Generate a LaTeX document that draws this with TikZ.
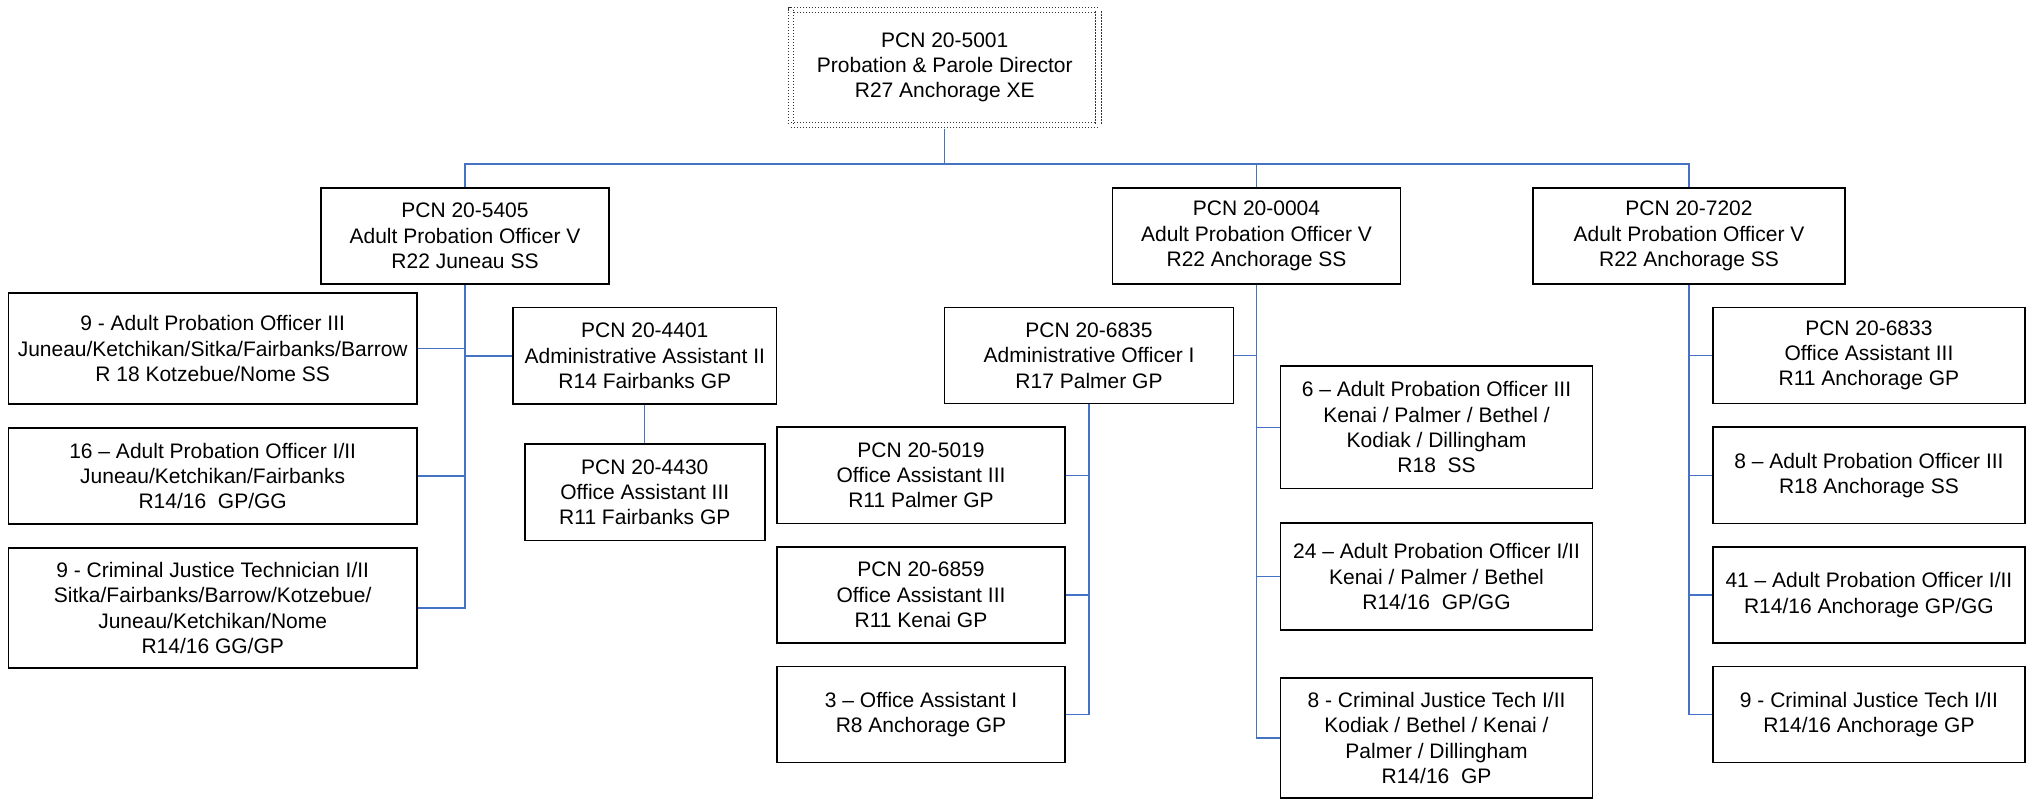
\documentclass[tikz,border=0pt]{standalone}
\usepackage{fontspec}
\setmainfont{Liberation Sans}
\definecolor{conn}{HTML}{4472C4}
\begin{document}
\begin{tikzpicture}[x=1pt,y=-1pt,
  box/.style={draw=black, line width=1.5pt, fill=white, align=center, inner sep=0pt,
    font=\fontsize{21}{25.3}\selectfont},
  dirbox/.style={draw=black!80, line width=1.2pt, dash pattern=on 1.2pt off 1.8pt, double=white,
    double distance=4.1pt, fill=white, align=center, inner sep=0pt,
    font=\fontsize{21}{25.3}\selectfont},
  link/.style={draw=conn, line width=1.3pt}]
\useasboundingbox (0,0) rectangle (2026,801);

% director
\node[dirbox, minimum width=307.5, minimum height=115] (dir) at (944.75,67.5)
  {PCN 20-5001\\Probation \& Parole Director\\R27 Anchorage XE};

% level 2
\node[box, minimum width=288, minimum height=96] (L) at (465,236)
  {PCN 20-5405\\Adult Probation Officer V\\R22 Juneau SS};
\node[box, minimum width=288, minimum height=96] (C) at (1256.5,236)
  {PCN 20-0004\\Adult Probation Officer V\\R22 Anchorage SS};
\node[box, minimum width=312, minimum height=96] (R) at (1689,236)
  {PCN 20-7202\\Adult Probation Officer V\\R22 Anchorage SS};

% left column
\node[box, minimum width=408.6, minimum height=111] (A1) at (212.7,348.5)
  {9 - Adult Probation Officer III\\Juneau/Ketchikan/Sitka/Fairbanks/Barrow\\R 18 Kotzebue/Nome SS};
\node[box, minimum width=408.6, minimum height=96] (A2) at (212.7,476)
  {16 – Adult Probation Officer I/II\\Juneau/Ketchikan/Fairbanks\\R14/16\ \ GP/GG};
\node[box, minimum width=408.6, minimum height=120] (A3) at (212.7,608)
  {9 - Criminal Justice Technician I/II\\Sitka/Fairbanks/Barrow/Kotzebue/\\Juneau/Ketchikan/Nome\\R14/16 GG/GP};
\node[box, minimum width=263.6, minimum height=96.3] (AA) at (644.8,355.85)
  {PCN 20-4401\\Administrative Assistant II\\R14 Fairbanks GP};
\node[box, minimum width=240, minimum height=96.7] (OA1) at (644.8,492.35)
  {PCN 20-4430\\Office Assistant III\\R11 Fairbanks GP};

% middle
\node[box, minimum width=289, minimum height=96] (AO) at (1089,355.6)
  {PCN 20-6835\\Administrative Officer I\\R17 Palmer GP};
\node[box, minimum width=288, minimum height=96.6] (B1) at (921,475.3)
  {PCN 20-5019\\Office Assistant III\\R11 Palmer GP};
\node[box, minimum width=288, minimum height=96] (B2) at (921,595)
  {PCN 20-6859\\Office Assistant III\\R11 Kenai GP};
\node[box, minimum width=288, minimum height=96] (B3) at (921,714.5)
  {3 – Office Assistant I\\R8 Anchorage GP};
\node[box, minimum width=311.7, minimum height=122.7] (C1) at (1436.5,427.3)
  {6 – Adult Probation Officer III\\Kenai / Palmer / Bethel /\\Kodiak / Dillingham\\R18\ \ SS};
\node[box, minimum width=311.7, minimum height=107.3] (C2) at (1436.5,576.5)
  {24 – Adult Probation Officer I/II\\Kenai / Palmer / Bethel\\R14/16\ \ GP/GG};
\node[box, minimum width=311.7, minimum height=120] (C3) at (1436.5,738)
  {8 - Criminal Justice Tech I/II\\Kodiak / Bethel / Kenai /\\Palmer / Dillingham\\R14/16\ \ GP};

% right column
\node[box, minimum width=312.3, minimum height=96] (D1) at (1868.9,355.5)
  {PCN 20-6833\\Office Assistant III\\R11 Anchorage GP};
\node[box, minimum width=312.3, minimum height=96.6] (D2) at (1868.9,475.3)
  {8 – Adult Probation Officer III\\R18 Anchorage SS};
\node[box, minimum width=312.3, minimum height=96] (D3) at (1868.9,595)
  {41 – Adult Probation Officer I/II\\R14/16 Anchorage GP/GG};
\node[box, minimum width=312.3, minimum height=96] (D4) at (1868.9,714.5)
  {9 - Criminal Justice Tech I/II\\R14/16 Anchorage GP};

% connectors
\coordinate (busy) at (0,164);
\coordinate (dirb) at ([yshift=-3pt]dir.south);
\draw[link] (dirb) -- (dirb |- busy);
\draw[link] (L.north) -- (L.north |- busy) -- (R.north |- busy) -- (R.north);
\draw[link] (C.north) -- (C.north |- busy);

\draw[link] (L.south) -- (L.south |- A3.east) -- (A3.east);
\draw[link] (A1.east) -- (A1.east -| L.south);
\draw[link] (A2.east) -- (A2.east -| L.south);
\draw[link] (AA.west) -- (AA.west -| L.south);
\draw[link] (AA.south) -- (OA1.north);

\draw[link] (C.south) -- (C.south |- C3.west) -- (C3.west);
\draw[link] (AO.east) -- (AO.east -| C.south);
\draw[link] (C1.west) -- (C1.west -| C.south);
\draw[link] (C2.west) -- (C2.west -| C.south);

\draw[link] (AO.south) -- (AO.south |- B3.east) -- (B3.east);
\draw[link] (B1.east) -- (B1.east -| AO.south);
\draw[link] (B2.east) -- (B2.east -| AO.south);

\draw[link] (R.south) -- (R.south |- D4.west) -- (D4.west);
\draw[link] (D1.west) -- (D1.west -| R.south);
\draw[link] (D2.west) -- (D2.west -| R.south);
\draw[link] (D3.west) -- (D3.west -| R.south);
\end{tikzpicture}
\end{document}
